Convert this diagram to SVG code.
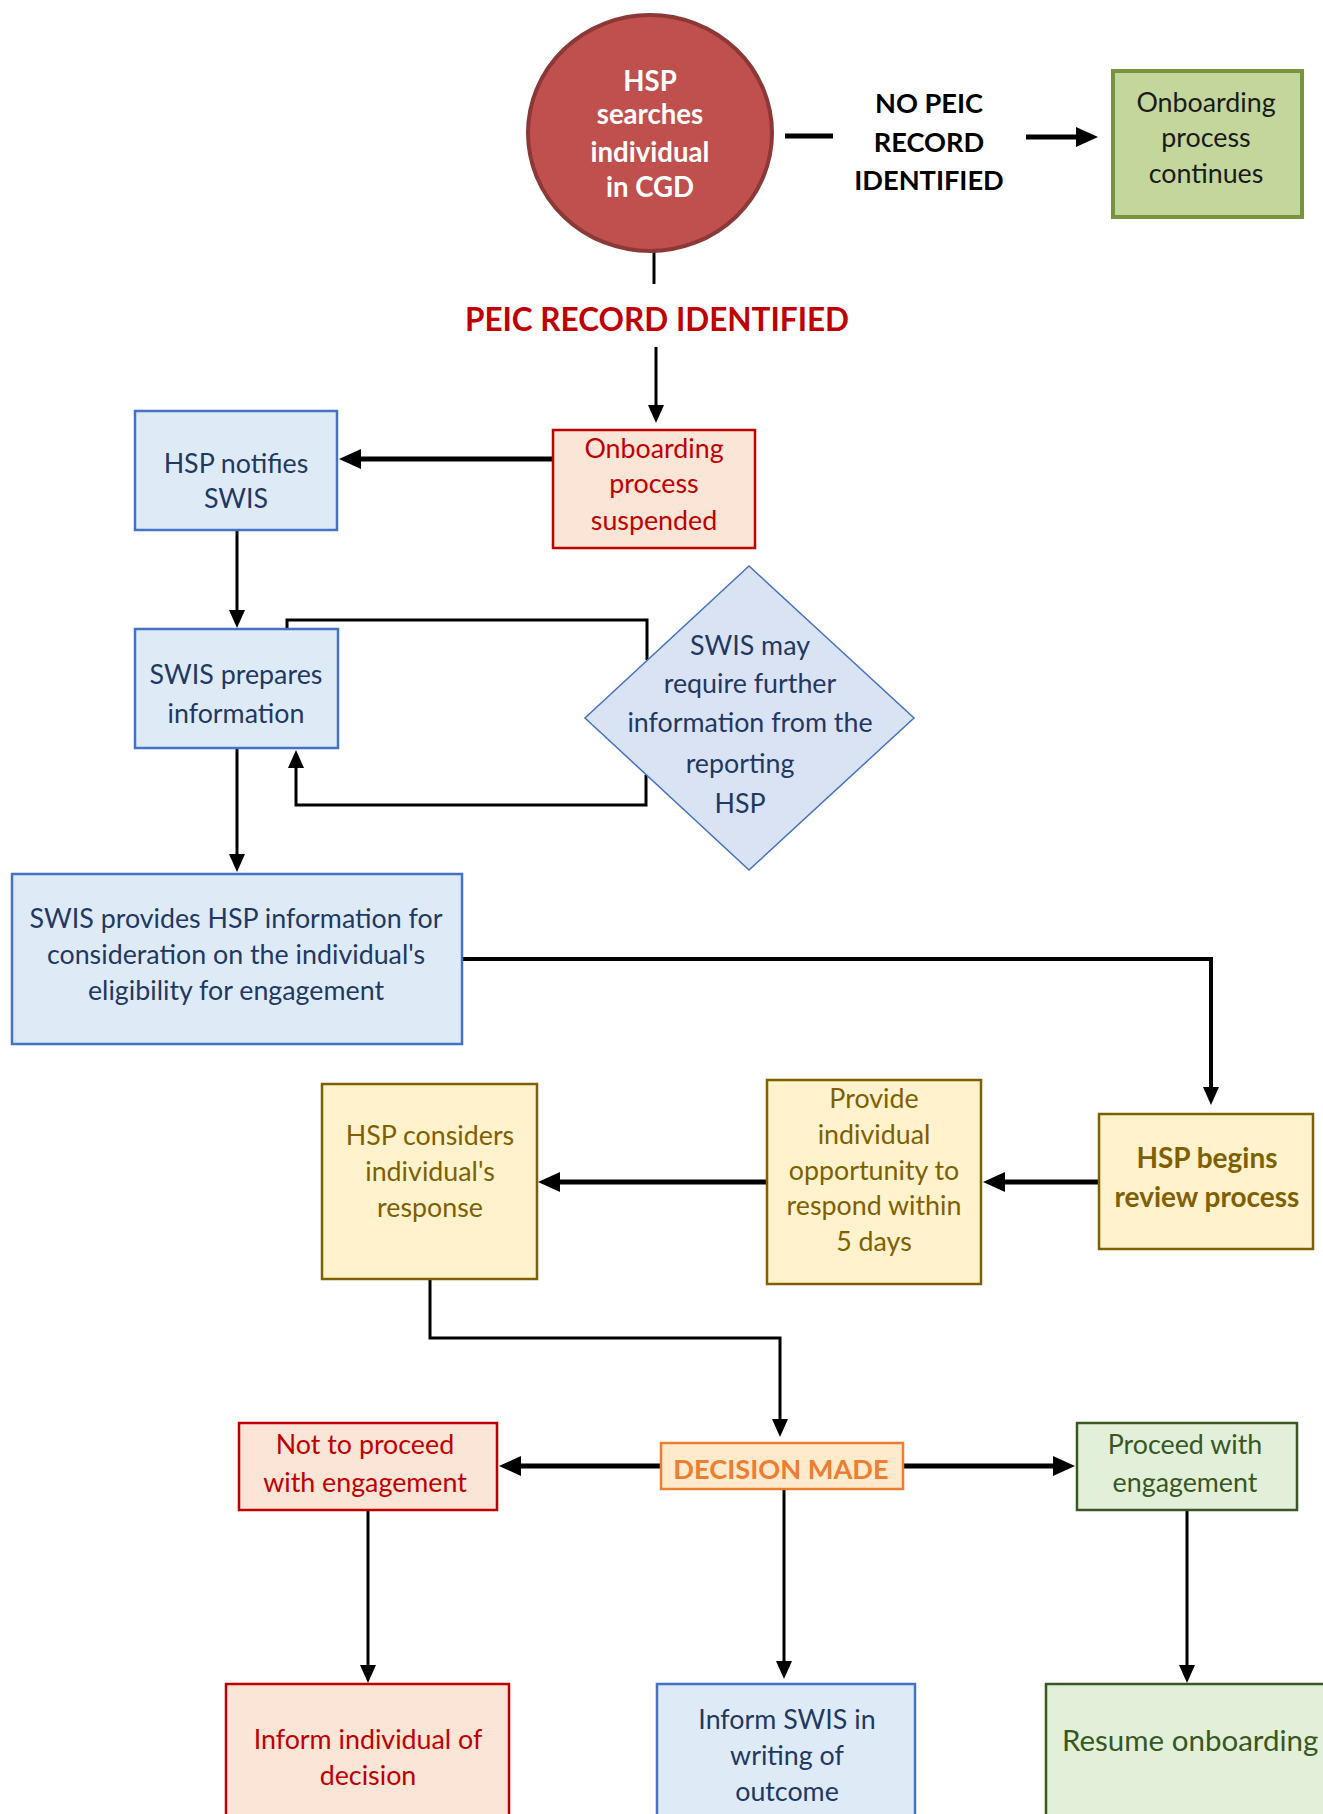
<svg xmlns="http://www.w3.org/2000/svg" width="1323" height="1814" viewBox="0 0 1323 1814">
<defs>
<style>
text{font-family:Lato,"Liberation Sans",sans-serif;text-anchor:middle;font-size:26.8px}
.b{font-weight:bold;font-size:27.6px}
.blue rect,.blue polygon{fill:#DEEBF7;stroke:#4472C4;stroke-width:2.5}
.blue text{fill:#1F3864}
.red rect{fill:#FBE5D6;stroke:#C00000;stroke-width:2.5}
.red text{fill:#C00000}
.yel rect{fill:#FFF2CC;stroke:#7F6000;stroke-width:2.5}
.yel text{fill:#7F6000}
.grn rect{fill:#E2F0D9;stroke:#385723;stroke-width:2.5}
.grn text{fill:#385723}
.c{fill:none;stroke:#000}
.t{stroke-width:5}
.n{stroke-width:3}
</style>
<marker id="a" markerWidth="22" markerHeight="20" refX="14" refY="10" orient="auto" markerUnits="userSpaceOnUse"><path d="M0,0 L22,10 L0,20 z" fill="#000"/></marker>
<marker id="s" markerWidth="18" markerHeight="16" refX="12" refY="8" orient="auto" markerUnits="userSpaceOnUse"><path d="M0,0 L18,8 L0,16 z" fill="#000"/></marker>
</defs>
<rect width="1323" height="1814" fill="#fff"/>

<g id="connectors">
<line class="c t" x1="785" y1="136" x2="833" y2="136"/>
<line class="c t" x1="1026" y1="137" x2="1090" y2="137" marker-end="url(#a)"/>
<line class="c n" x1="654" y1="252" x2="654" y2="284"/>
<line class="c n" x1="656" y1="347" x2="656" y2="417" marker-end="url(#s)"/>
<line class="c t" x1="553" y1="459" x2="347" y2="459" marker-end="url(#a)"/>
<line class="c n" x1="237" y1="530" x2="237" y2="622" marker-end="url(#s)"/>
<polyline class="c n" points="287,629 287,620 647,620 647,660"/>
<polyline class="c n" points="646,775 646,805 296,805 296,756" marker-end="url(#s)"/>
<line class="c n" x1="237" y1="748" x2="237" y2="866" marker-end="url(#s)"/>
<polyline class="c" stroke-width="4" points="462,959 1211,959 1211,1099" marker-end="url(#s)"/>
<line class="c t" x1="1099" y1="1182" x2="991" y2="1182" marker-end="url(#a)"/>
<line class="c t" x1="767" y1="1182" x2="546" y2="1182" marker-end="url(#a)"/>
<polyline class="c n" points="430,1279 430,1338 780,1338 780,1431" marker-end="url(#s)"/>
<line class="c t" x1="661" y1="1466" x2="507" y2="1466" marker-end="url(#a)"/>
<line class="c t" x1="903" y1="1466" x2="1067" y2="1466" marker-end="url(#a)"/>
<line class="c n" x1="368" y1="1510" x2="368" y2="1677" marker-end="url(#s)"/>
<line class="c n" x1="784" y1="1489" x2="784" y2="1673" marker-end="url(#s)"/>
<line class="c n" x1="1187" y1="1510" x2="1187" y2="1677" marker-end="url(#s)"/>
</g>

<g id="labels">
<text class="b" x="929" y="113" style="font-size:27.2px">NO PEIC</text>
<text class="b" x="929" y="152" style="font-size:27.2px">RECORD</text>
<text class="b" x="929" y="190" style="font-size:27.2px">IDENTIFIED</text>
<text class="b" x="657" y="331" style="font-size:31.5px" fill="#C00000">PEIC RECORD IDENTIFIED</text>
</g>

<g id="start">
<ellipse cx="650" cy="133" rx="122" ry="118" fill="#C0504D" stroke="#8C3836" stroke-width="4"/>
<text class="b" x="650" y="91" fill="#fff">HSP</text>
<text class="b" x="650" y="124" fill="#fff">searches</text>
<text class="b" x="650" y="162" fill="#fff">individual</text>
<text class="b" x="650" y="197" fill="#fff">in CGD</text>
</g>

<g id="continues">
<rect x="1113" y="71" width="189" height="146" fill="#C3D69B" stroke="#77933C" stroke-width="4"/>
<text x="1206" y="112" fill="#1a1a1a">Onboarding</text>
<text x="1206" y="147" fill="#1a1a1a">process</text>
<text x="1206" y="183" fill="#1a1a1a">continues</text>
</g>

<g id="suspended" class="red">
<rect x="553" y="430" width="202" height="118"/>
<text x="654" y="458">Onboarding</text>
<text x="654" y="493">process</text>
<text x="654" y="530">suspended</text>
</g>

<g id="notifies" class="blue">
<rect x="135" y="411" width="202" height="119"/>
<text x="236" y="473">HSP notifies</text>
<text x="236" y="508">SWIS</text>
</g>

<g id="prepares" class="blue">
<rect x="135" y="629" width="203" height="119"/>
<text x="236" y="684">SWIS prepares</text>
<text x="236" y="723">information</text>
</g>

<g id="further" class="blue">
<polygon points="749,566 914,718 749,870 585,718" style="fill:#DAE3F3;stroke-width:1.5"/>
<text x="750" y="655">SWIS may</text>
<text x="750" y="693">require further</text>
<text x="750" y="732">information from the</text>
<text x="740" y="773">reporting</text>
<text x="740" y="813">HSP</text>
</g>

<g id="provides" class="blue">
<rect x="12" y="874" width="450" height="170"/>
<text x="236" y="928">SWIS provides HSP information for</text>
<text x="236" y="964">consideration on the individual's</text>
<text x="236" y="1000">eligibility for engagement</text>
</g>

<g id="begins" class="yel">
<rect x="1099" y="1114" width="214" height="135"/>
<text class="b" x="1207" y="1168" style="font-size:28px">HSP begins</text>
<text class="b" x="1207" y="1207" style="font-size:28px">review process</text>
</g>

<g id="provide" class="yel">
<rect x="767" y="1080" width="214" height="204"/>
<text x="874" y="1108">Provide</text>
<text x="874" y="1144">individual</text>
<text x="874" y="1180">opportunity to</text>
<text x="874" y="1215">respond within</text>
<text x="874" y="1251">5 days</text>
</g>

<g id="considers" class="yel">
<rect x="322" y="1084" width="215" height="195"/>
<text x="430" y="1145">HSP considers</text>
<text x="430" y="1181">individual's</text>
<text x="430" y="1217">response</text>
</g>

<g id="decision">
<rect x="661" y="1443" width="242" height="46" fill="#FFEBCC" stroke="#ED7D31" stroke-width="2.5"/>
<text class="b" x="781" y="1479" style="font-size:27.2px" fill="#ED7D31">DECISION MADE</text>
</g>

<g id="notproceed" class="red">
<rect x="239" y="1423" width="258" height="87"/>
<text x="365" y="1454">Not to proceed</text>
<text x="365" y="1492">with engagement</text>
</g>

<g id="proceed" class="grn">
<rect x="1077" y="1423" width="220" height="87"/>
<text x="1185" y="1454">Proceed with</text>
<text x="1185" y="1492">engagement</text>
</g>

<g id="informind" class="red">
<rect x="226" y="1684" width="283" height="140"/>
<text x="368" y="1749">Inform individual of</text>
<text x="368" y="1785">decision</text>
</g>

<g id="informswis" class="blue">
<rect x="657" y="1684" width="258" height="140"/>
<text x="787" y="1729">Inform SWIS in</text>
<text x="787" y="1765">writing of</text>
<text x="787" y="1801">outcome</text>
</g>

<g id="resume" class="grn">
<rect x="1046" y="1684" width="290" height="140"/>
<text x="1062" y="1751" style="text-anchor:start;font-size:29.5px">Resume onboarding</text>
</g>
</svg>
